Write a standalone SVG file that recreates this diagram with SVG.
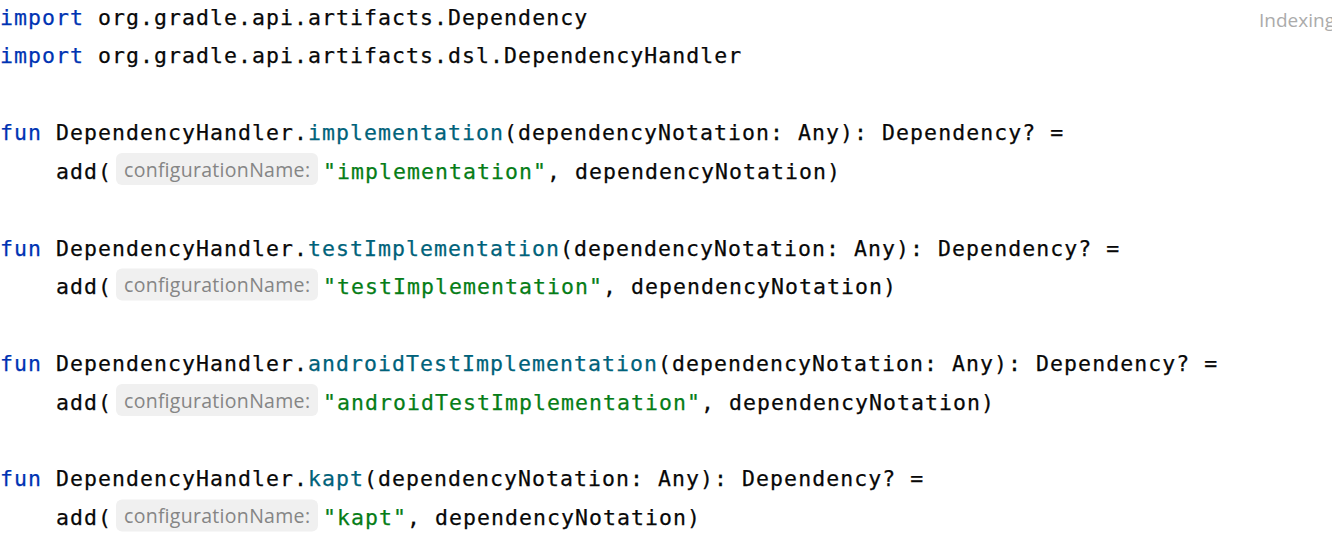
<svg xmlns="http://www.w3.org/2000/svg" width="1332" height="533" viewBox="0 0 1332 533">
<style>
.c{font-family:"DejaVu Sans Mono","Liberation Mono",monospace;font-size:21.5px;letter-spacing:1.06px;fill:#080808;stroke:#080808;stroke-width:0.25px}
.k{fill:#0033b3;stroke:#0033b3}
.f{fill:#00627a;stroke:#00627a}
.s{fill:#067d17;stroke:#067d17}
.hb{fill:#f0f0f0}
.ht{font-family:"Open Sans","Noto Sans",sans-serif;font-size:19.5px;fill:#858585}
.ix{font-family:"Open Sans","Noto Sans",sans-serif;font-size:19px;fill:#ababab}
</style>
<rect width="1332" height="533" fill="#ffffff"/>
<text class="ix" x="1259" y="27">Indexing</text>
<g id="imports">
<text class="c" y="25"><tspan class="k" x="0">import</tspan><tspan x="98">org.gradle.api.artifacts.Dependency</tspan></text>
<text class="c" y="63"><tspan class="k" x="0">import</tspan><tspan x="98">org.gradle.api.artifacts.dsl.DependencyHandler</tspan></text>
</g>
<g id="fn-implementation">
<text class="c" y="140"><tspan class="k" x="0">fun</tspan><tspan x="56">DependencyHandler.</tspan><tspan class="f" x="308">implementation</tspan><tspan x="504">(dependencyNotation: Any): Dependency? =</tspan></text>
<text class="c" y="178.5"><tspan x="56">add(</tspan><tspan class="s" x="323">"implementation"</tspan><tspan x="547">, dependencyNotation)</tspan></text>
<rect class="hb" x="116" y="153" width="202" height="32" rx="6"/>
<text class="ht" x="124" y="176.5" textLength="186">configurationName:</text>
</g>
<g id="fn-testImplementation">
<text class="c" y="256"><tspan class="k" x="0">fun</tspan><tspan x="56">DependencyHandler.</tspan><tspan class="f" x="308">testImplementation</tspan><tspan x="560">(dependencyNotation: Any): Dependency? =</tspan></text>
<text class="c" y="294"><tspan x="56">add(</tspan><tspan class="s" x="323">"testImplementation"</tspan><tspan x="603">, dependencyNotation)</tspan></text>
<rect class="hb" x="116" y="268.5" width="202" height="32" rx="6"/>
<text class="ht" x="124" y="292" textLength="186">configurationName:</text>
</g>
<g id="fn-androidTestImplementation">
<text class="c" y="371"><tspan class="k" x="0">fun</tspan><tspan x="56">DependencyHandler.</tspan><tspan class="f" x="308">androidTestImplementation</tspan><tspan x="658">(dependencyNotation: Any): Dependency? =</tspan></text>
<text class="c" y="409.5"><tspan x="56">add(</tspan><tspan class="s" x="323">"androidTestImplementation"</tspan><tspan x="701">, dependencyNotation)</tspan></text>
<rect class="hb" x="116" y="384" width="202" height="32" rx="6"/>
<text class="ht" x="124" y="407.5" textLength="186">configurationName:</text>
</g>
<g id="fn-kapt">
<text class="c" y="486"><tspan class="k" x="0">fun</tspan><tspan x="56">DependencyHandler.</tspan><tspan class="f" x="308">kapt</tspan><tspan x="364">(dependencyNotation: Any): Dependency? =</tspan></text>
<text class="c" y="524.5"><tspan x="56">add(</tspan><tspan class="s" x="323">"kapt"</tspan><tspan x="407">, dependencyNotation)</tspan></text>
<rect class="hb" x="116" y="499.5" width="202" height="32" rx="6"/>
<text class="ht" x="124" y="523" textLength="186">configurationName:</text>
</g>
</svg>
